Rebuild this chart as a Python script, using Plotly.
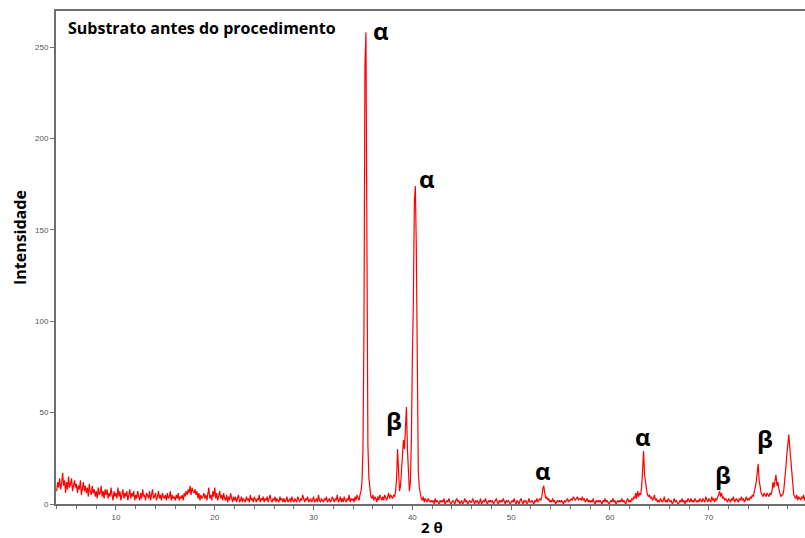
import plotly.graph_objects as go

# XRD scan: 2-theta from 4.0 deg, step 0.1 deg
TWO_THETA_START = 4.0
TWO_THETA_STEP = 0.1

# Intensity values, one row per degree (x.0 ... x.9)
intensity = [
    7, 12, 9, 14, 8, 11, 17, 10, 13, 6,      # 4
    12, 8, 15, 9, 11, 14, 7, 10, 13, 9,      # 5
    11, 6, 10, 8, 13, 5, 9, 12, 7, 10,       # 6
    6, 9, 4, 11, 7, 5, 10, 6, 8, 4,          # 7
    7, 3, 9, 5, 6, 10, 4, 7, 3, 8,           # 8
    5, 8, 3, 6, 4, 9, 5, 2, 7, 4,            # 9
    6, 3, 9, 4, 7, 2, 5, 8, 3, 6,            # 10
    4, 7, 2, 5, 8, 3, 6, 4, 7, 2,            # 11
    5, 3, 7, 4, 2, 6, 3, 8, 4, 5,            # 12
    2, 6, 4, 3, 7, 2, 5, 8, 3, 4,            # 13
    6, 2, 4, 7, 3, 5, 2, 6, 4, 3,            # 14
    5, 2, 6, 3, 4, 7, 2, 5, 3, 4,            # 15
    2, 5, 3, 6, 2, 4, 3, 5, 2, 6,            # 16
    4, 7, 5, 8, 6, 10, 5, 9, 7, 6,           # 17
    8, 5, 7, 3, 6, 2, 5, 3, 4, 6,            # 18
    3, 5, 2, 6, 9, 3, 5, 2, 7, 4,            # 19
    9, 3, 6, 2, 4, 7, 3, 5, 2, 6,            # 20
    3, 2, 5, 1, 4, 2, 6, 3, 1, 4,            # 21
    2, 4, 1, 3, 5, 1, 2, 4, 1, 3,            # 22
    2, 1, 4, 2, 3, 1, 5, 2, 3, 1,            # 23
    4, 2, 1, 3, 2, 5, 1, 3, 2, 4,            # 24
    1, 3, 2, 4, 1, 3, 5, 2, 1, 3,            # 25
    2, 4, 1, 3, 2, 1, 4, 2, 3, 1,            # 26
    3, 1, 2, 4, 1, 2, 3, 1, 4, 2,            # 27
    1, 3, 2, 1, 4, 2, 1, 3, 2, 5,            # 28
    2, 1, 3, 2, 4, 1, 2, 3, 1, 2,            # 29
    4, 1, 2, 3, 1, 5, 2, 1, 3, 2,            # 30
    1, 3, 2, 4, 1, 2, 3, 1, 2, 4,            # 31
    2, 1, 3, 2, 5, 1, 2, 4, 1, 3,            # 32
    1, 4, 2, 1, 3, 2, 5, 1, 3, 2,            # 33
    3, 1, 4, 2, 5, 3, 2, 5, 7, 12,           # 34
    30, 95, 240, 258, 120, 32, 14, 7, 4, 3,  # 35
    5, 2, 4, 3, 1, 4, 2, 5, 3, 2,            # 36
    4, 2, 5, 3, 2, 4, 6, 3, 5, 4,            # 37
    3, 5, 4, 7, 14, 30, 14, 7, 10, 18,       # 38
    28, 35, 30, 45, 53, 30, 12, 7, 12, 35,   # 39
    80, 110, 165, 174, 140, 50, 18, 9, 5, 3, # 40
    2, 4, 1, 3, 2, 1, 3, 2, 1, 2,            # 41
    1, 2, 0, 3, 1, 2, 1, 0, 2, 1,            # 42
    2, 1, 3, 0, 1, 2, 1, 3, 1, 0,            # 43
    1, 2, 1, 0, 2, 3, 1, 2, 0, 1,            # 44
    2, 0, 1, 3, 1, 2, 0, 1, 2, 1,            # 45
    1, 3, 1, 0, 2, 1, 2, 0, 1, 3,            # 46
    0, 1, 2, 1, 3, 1, 0, 2, 1, 2,            # 47
    1, 2, 0, 1, 2, 3, 1, 0, 2, 1,            # 48
    2, 1, 3, 1, 0, 2, 1, 2, 1, 0,            # 49
    1, 2, 1, 3, 1, 0, 2, 1, 0, 2,            # 50
    3, 1, 0, 2, 1, 2, 0, 1, 3, 1,            # 51
    1, 2, 1, 0, 2, 1, 3, 1, 2, 3,            # 52
    2, 4, 8, 10, 6, 3, 4, 2, 3, 1,           # 53
    2, 1, 3, 1, 2, 0, 1, 2, 1, 2,            # 54
    1, 2, 1, 0, 2, 1, 2, 3, 1, 2,            # 55
    2, 3, 2, 4, 3, 2, 3, 4, 2, 3,            # 56
    3, 2, 4, 2, 3, 1, 2, 3, 1, 2,            # 57
    1, 2, 1, 3, 1, 0, 2, 1, 2, 1,            # 58
    2, 1, 0, 2, 1, 3, 1, 2, 1, 0,            # 59
    1, 2, 1, 3, 1, 2, 0, 1, 2, 1,            # 60
    2, 1, 3, 1, 2, 1, 0, 2, 3, 1,            # 61
    2, 1, 3, 2, 4, 3, 6, 3, 7, 4,            # 62
    6, 5, 9, 18, 29, 16, 11, 8, 5, 4,        # 63
    5, 3, 4, 2, 3, 5, 2, 3, 1, 2,            # 64
    1, 3, 2, 1, 2, 4, 1, 2, 1, 3,            # 65
    2, 1, 2, 0, 1, 3, 1, 2, 1, 0,            # 66
    1, 2, 1, 3, 1, 2, 0, 2, 1, 3,            # 67
    2, 1, 3, 1, 2, 1, 3, 2, 1, 2,            # 68
    1, 3, 2, 1, 3, 2, 1, 4, 2, 1,            # 69
    3, 2, 1, 4, 2, 3, 1, 3, 2, 4,            # 70
    5, 7, 4, 6, 3, 4, 2, 3, 2, 1,            # 71
    3, 2, 1, 3, 2, 4, 1, 2, 3, 2,            # 72
    1, 3, 2, 4, 2, 3, 1, 2, 4, 2,            # 73
    3, 2, 4, 3, 5, 4, 6, 9, 12, 16,          # 74
    22, 13, 8, 6, 5, 4, 6, 5, 4, 6,          # 75
    5, 4, 6, 5, 7, 12, 9, 14, 16, 10,        # 76
    12, 8, 5, 4, 5, 5, 8, 13, 20, 27,        # 77
    34, 38, 31, 24, 17, 9, 5, 4, 3, 5,       # 78
    2, 4, 3, 2, 4, 3, 5, 2, 4, 3,            # 79
]
two_theta = [round(TWO_THETA_START + TWO_THETA_STEP * i, 1) for i in range(len(intensity))]

# Phase labels: (text, 2theta, intensity)
phase_labels = ["α", "α", "β", "α", "α", "β", "β"]
phase_x = [36.83, 41.53, 38.14, 53.22, 63.39, 71.44, 75.69]
phase_y = [259, 177.8, 45.7, 18.6, 37.2, 16.4, 36.1]

x_ticks = [10, 20, 30, 40, 50, 60, 70, 80]
y_ticks = [0, 50, 100, 150, 200, 250]

title_text = "Substrato antes do procedimento"
x_title = "2 θ"
y_title = "Intensidade"

AXIS_COLOR = "#6e6e6e"
LABEL_FONT = "Open Sans"

fig = go.Figure()
fig.add_trace(go.Scatter(
    x=two_theta, y=intensity, mode="lines",
    line=dict(color="#ff0000", width=1.2),
    showlegend=False, hoverinfo="skip",
))

annotations = []
for t, xv, yv in zip(phase_labels, phase_x, phase_y):
    annotations.append(dict(
        x=xv, y=yv, xref="x", yref="y", text=f"<b>{t}</b>", showarrow=False,
        font=dict(family=LABEL_FONT, size=24, color="#000000"),
        xanchor="center", yanchor="middle",
    ))
annotations.append(dict(
    x=0.0134, y=0.9665, xref="paper", yref="paper", text=f"<b>{title_text}</b>",
    showarrow=False, xanchor="left", yanchor="middle",
    font=dict(family=LABEL_FONT, size=16, color="#000000"),
))
annotations.append(dict(
    x=0.502, y=-0.047, xref="paper", yref="paper", text=f"<b>{x_title}</b>",
    showarrow=False, xanchor="center", yanchor="middle",
    font=dict(family=LABEL_FONT, size=15, color="#000000"),
))
annotations.append(dict(
    x=-0.049, y=0.54, xref="paper", yref="paper", text=f"<b>{y_title}</b>",
    showarrow=False, xanchor="center", yanchor="middle", textangle=-90,
    font=dict(family=LABEL_FONT, size=16, color="#000000"),
))

fig.update_layout(
    width=805, height=538,
    margin=dict(l=56, r=0, t=11, b=34),
    paper_bgcolor="white", plot_bgcolor="white",
    annotations=annotations,
    xaxis=dict(
        range=[3.93, 79.74], tickvals=x_ticks, ticks="outside", ticklen=4,
        tickcolor=AXIS_COLOR, tickwidth=1,
        showline=True, linecolor=AXIS_COLOR, linewidth=2, mirror=True,
        showgrid=False, zeroline=False,
        tickfont=dict(family="Liberation Sans", size=8, color="#555555"),
        minor=dict(dtick=2, ticks="outside", ticklen=3, tickcolor=AXIS_COLOR, showgrid=False),
    ),
    yaxis=dict(
        range=[0, 269.7], tickvals=y_ticks, ticks="outside", ticklen=4,
        tickcolor=AXIS_COLOR, tickwidth=1,
        showline=True, linecolor=AXIS_COLOR, linewidth=2,
        showgrid=False, zeroline=False,
        tickfont=dict(family="Liberation Sans", size=8, color="#555555"),
    ),
)

fig.write_html(
    "out.html",
    config={"displayModeBar": False},
    post_script="document.body.style.margin='0';document.body.style.overflow='hidden';",
)
